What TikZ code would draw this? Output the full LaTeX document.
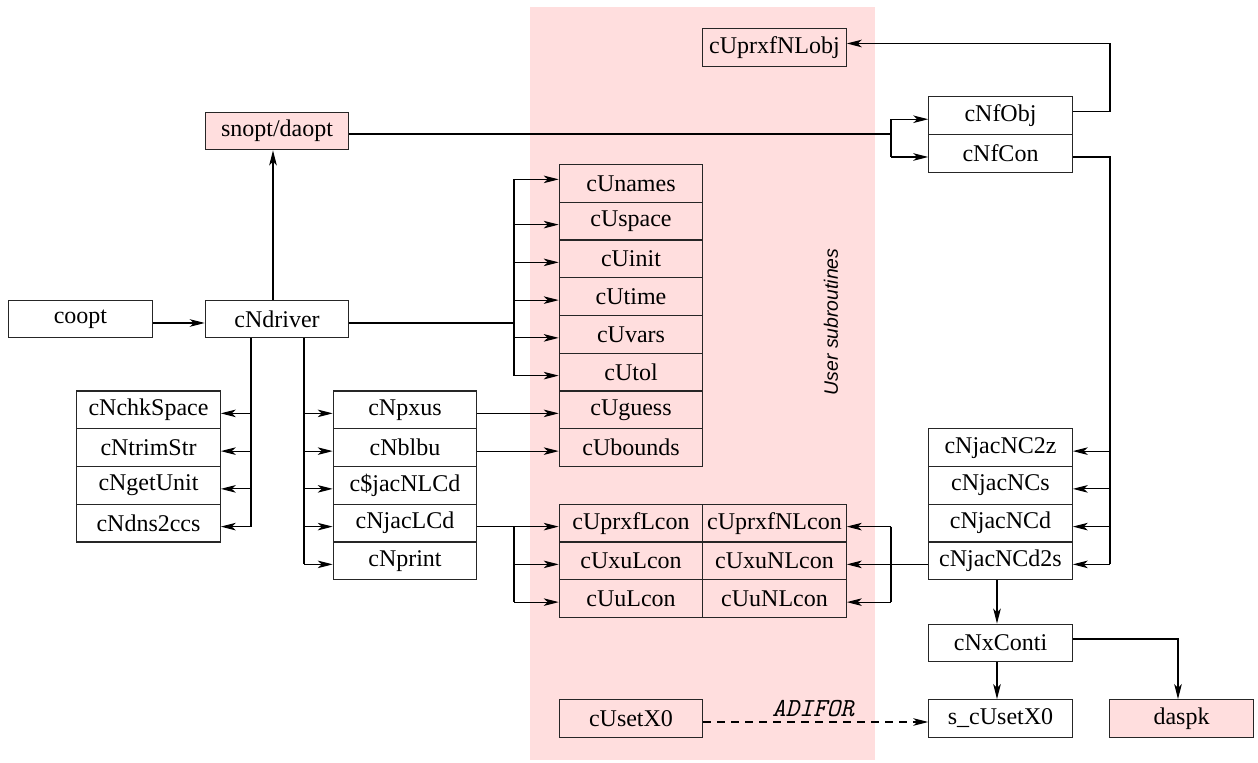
\documentclass[tikz,border=0pt]{standalone}
\usepackage{fontspec}
\setmainfont{Liberation Serif}
\newfontfamily\sflab{Liberation Sans}
\usetikzlibrary{arrows.meta}
\definecolor{pinkbg}{RGB}{255,222,222}
\begin{document}
\begin{tikzpicture}[x=0.5pt,y=-0.5pt,
  box/.style={draw=black!85, line width=0.55pt, minimum width=71.75pt, minimum height=18.875pt,
    inner sep=0pt, font=\fontsize{12}{14}\selectfont, anchor=center},
  wbox/.style={box, fill=white},
  pbox/.style={box, fill=pinkbg},
  ln/.style={line width=0.55pt},
  thk/.style={line width=1.1pt},
  arr/.style={line width=0.55pt, -{Stealth[length=7.5pt,width=3.8pt,inset=2pt]}},
]
\useasboundingbox (0,0) rectangle (1258,763);
\fill[pinkbg] (530,7) rectangle (875,760);

% ---------- nodes ----------
\node[pbox] (snopt)  at (277,131) {snopt/daopt};
\node[wbox] (coopt)  at (80.5,319) {coopt};
\node[wbox] (driver) at (277,319) {cNdriver};
\node[box]  (nlobj)  at (774.5,47.5) {cUprxfNLobj};
\node[wbox] (fobj)   at (1000.5,115.75) {cNfObj};
\node[wbox] (fcon)   at (1000.5,153.5) {cNfCon};

\foreach \n/\t [count=\k from 0] in {unames/cUnames,uspace/cUspace,uinit/cUinit,utime/cUtime,uvars/cUvars,utol/cUtol,uguess/cUguess,ubounds/cUbounds}
  \node[box] (\n) at (631,183.375+37.75*\k) {\t};

\foreach \n/\t [count=\k from 0] in {chk/cNchkSpace,trim/cNtrimStr,getu/cNgetUnit,dns/cNdns2ccs}
  \node[wbox] (\n) at (148.5,409.875+37.75*\k) {\t};

\foreach \n/\t [count=\k from 0] in {pxus/cNpxus,blbu/cNblbu,jacnl/c\$jacNLCd,jaclcd/cNjacLCd,print/cNprint}
  \node[wbox] (\n) at (405,409.875+37.75*\k) {\t};

\foreach \n/\t [count=\k from 0] in {prxflcon/cUprxfLcon,xulcon/cUxuLcon,ulcon/cUuLcon}
  \node[box] (\n) at (631,523.125+37.75*\k) {\t};
\foreach \n/\t [count=\k from 0] in {prxfnlcon/cUprxfNLcon,xunlcon/cUxuNLcon,unlcon/cUuNLcon}
  \node[box] (\n) at (774.5,523.125+37.75*\k) {\t};

\foreach \n/\t [count=\k from 0] in {jnc2z/cNjacNC2z,jncs/cNjacNCs,jncd/cNjacNCd,jncd2s/cNjacNCd2s}
  \node[wbox] (\n) at (1000.5,447.625+37.75*\k) {\t};

\node[wbox] (xconti) at (1000.5,643) {cNxConti};
\node[wbox] (sx0)    at (1000.5,718.5) {s\_cUsetX0};
\node[pbox] (daspk)  at (1181.5,718.5) {daspk};
\node[box]  (usetx0) at (631,718.5) {cUsetX0};

\node[rotate=90, font=\sflab\itshape\fontsize{9.7}{11}\selectfont] (usr) at (831,322) {User subroutines};
\node[font=\ttfamily\itshape\fontsize{13}{15}\selectfont] (adifor) at (813,709) {ADIFOR};

% ---------- connectors ----------
\draw[arr] ([yshift=-2pt]coopt.east) -- ([yshift=-2pt]driver.west);
\draw[arr] ([xshift=-2pt]driver.north) -- ([xshift=-2pt]snopt.south);

% driver -> user routines bus
\coordinate (b1) at (514,0);
\coordinate (dE) at ([yshift=-2pt]driver.east);
\draw[thk] (dE) -- (dE -| b1);
\coordinate (t0) at ([yshift=2pt]unames.west);
\coordinate (tl) at ([yshift=-1.75pt]utol.west);
\draw[ln] (t0 -| b1) -- (tl -| b1);
\draw[arr] (t0 -| b1) -- (t0);
\foreach \n in {uspace,uinit,utime,uvars,utol}{
  \coordinate (t) at ([yshift=-1.75pt]\n.west);
  \draw[arr] (t -| b1) -- (t);
}

% driver -> left stack
\coordinate (b2) at (251,0);
\coordinate (tl2) at ([yshift=-1.75pt]dns.east);
\draw[ln] (driver.south -| b2) -- (tl2 -| b2);
\foreach \n in {chk,trim,getu,dns}{
  \coordinate (t) at ([yshift=-1.75pt]\n.east);
  \draw[arr] (t -| b2) -- (t);
}

% driver -> middle stack
\coordinate (b3) at (304,0);
\coordinate (tl3) at ([yshift=-1.75pt]print.west);
\draw[ln] (driver.south -| b3) -- (tl3 -| b3);
\foreach \n in {pxus,blbu,jacnl,jaclcd,print}{
  \coordinate (t) at ([yshift=-1.75pt]\n.west);
  \draw[arr] (t -| b3) -- (t);
}

\draw[arr] ([yshift=-1.75pt]pxus.east) -- ([yshift=-1.75pt]uguess.west);
\draw[arr] ([yshift=-1.75pt]blbu.east) -- ([yshift=-1.75pt]ubounds.west);

% cNjacLCd -> linear constraint routines
\coordinate (jE) at ([yshift=-1.75pt]jaclcd.east);
\coordinate (lb) at ([yshift=-1.75pt]ulcon.west);
\draw[ln] (jE) -- (jE -| b1) -- (lb -| b1);
\foreach \n in {prxflcon,xulcon,ulcon}{
  \coordinate (t) at ([yshift=-1.75pt]\n.west);
  \draw[arr] (t -| b1) -- (t);
}

% cNjacNCd2s -> nonlinear constraint routines
\coordinate (b4) at (891,0);
\coordinate (n1) at ([yshift=-1.75pt]prxfnlcon.east);
\coordinate (n3) at ([yshift=-1.75pt]unlcon.east);
\draw[ln] (n1 -| b4) -- (n3 -| b4);
\draw[arr] (n1 -| b4) -- (n1);
\draw[arr] (n3 -| b4) -- (n3);
\draw[arr] ([yshift=-1.75pt]jncd2s.west) -- ([yshift=-1.75pt]xunlcon.east);

% snopt -> cNfObj / cNfCon
\coordinate (sE) at ([yshift=-1.5pt]snopt.east);
\coordinate (f1) at ([yshift=-1.75pt]fobj.west);
\coordinate (f2) at ([yshift=-1.75pt]fcon.west);
\draw[ln] (sE) -- (sE -| b4);
\draw[ln] (f1 -| b4) -- (f2 -| b4);
\draw[arr] (f1 -| b4) -- (f1);
\draw[arr] (f2 -| b4) -- (f2);

% cNfObj -> cUprxfNLobj
\coordinate (b6) at (1110,0);
\coordinate (oE) at ([yshift=2.25pt]fobj.east);
\coordinate (oT) at ([yshift=2pt]nlobj.east);
\draw[arr] (oE) -- (oE -| b6) -- (oT -| b6) -- (oT);

% cNfCon -> cNjacNC*
\coordinate (cE) at ([yshift=-1.75pt]fcon.east);
\coordinate (j1) at ([yshift=-1.75pt]jnc2z.east);
\coordinate (j4) at ([yshift=-1.75pt]jncd2s.east);
\draw[thk] (cE) -- (cE -| b6) -- (j1 -| b6);
\draw[ln] (j1 -| b6) -- (j4 -| b6);
\foreach \n in {jnc2z,jncs,jncd,jncd2s}{
  \coordinate (t) at ([yshift=-1.75pt]\n.east);
  \draw[arr] (t -| b6) -- (t);
}

% lower right
\draw[arr] ([xshift=-1.75pt]jncd2s.south) -- ([xshift=-1.75pt]xconti.north);
\draw[arr] ([xshift=-1.75pt]xconti.south) -- ([xshift=-1.75pt]sx0.north);
\coordinate (xE) at ([yshift=2pt]xconti.east);
\draw[arr] (xE) -| ([xshift=-1.75pt]daspk.north);

% ADIFOR transformation
\draw[arr, dash pattern=on 4pt off 3pt] ([yshift=-1.75pt]usetx0.east) -- ([yshift=-1.75pt]sx0.west);
\end{tikzpicture}
\end{document}
